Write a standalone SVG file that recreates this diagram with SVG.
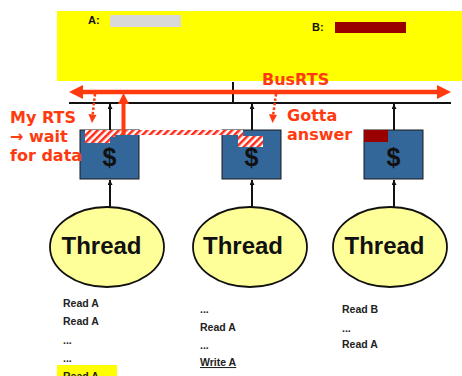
<svg xmlns="http://www.w3.org/2000/svg" width="462" height="376" viewBox="0 0 462 376">
  <style>
    .lbl { font-family: "Liberation Sans", Arial, sans-serif; font-weight: bold; fill: #111; }
    .red { font-family: "DejaVu Sans", Verdana, sans-serif; font-weight: bold; fill: #ff3a0f; font-size: 16px; }
    .cache { fill: #336699; stroke: #1a1a1a; stroke-width: 1; }
    .thread { fill: #ffff99; stroke: #111; stroke-width: 1.8; }
    .code { font-family: "Liberation Sans", Arial, sans-serif; font-weight: bold; font-size: 10.5px; fill: #222; }
    .wire { stroke: #111; stroke-width: 2; fill: none; }
    .dot { stroke: #ff3a0f; stroke-width: 2.5; stroke-dasharray: 2.5 2; fill: none; }
  </style>
  <defs>
    <pattern id="hatch" width="5" height="5" patternUnits="userSpaceOnUse" patternTransform="rotate(45)">
      <rect width="5" height="5" fill="#ffffff"/>
      <rect width="2.5" height="5" fill="#ff2a1a"/>
    </pattern>
    <marker id="tip" viewBox="0 0 10 10" refX="10" refY="5" markerWidth="5" markerHeight="5" orient="auto" markerUnits="userSpaceOnUse">
      <path d="M0,0 L10,5 L0,10 Z" fill="#111"/>
    </marker>
  </defs>

  <!-- memory -->
  <g id="memory">
    <rect x="57" y="11" width="405" height="70" fill="#ffff00"/>
    <text class="lbl" x="88" y="24" font-size="11">A:</text>
    <rect x="110" y="15" width="71" height="12" fill="#d9d9d9"/>
    <text class="lbl" x="312" y="31" font-size="11">B:</text>
    <rect x="335" y="22" width="71" height="11" fill="#990000"/>
  </g>

  <!-- caches -->
  <g id="cache1">
    <rect class="cache" x="80" y="130" width="59" height="49"/>
    <text class="lbl" x="109.5" y="166" font-size="25" text-anchor="middle">$</text>
  </g>
  <g id="cache2">
    <rect class="cache" x="222" y="130" width="59" height="49"/>
    <text class="lbl" x="251.5" y="166" font-size="25" text-anchor="middle">$</text>
  </g>
  <g id="cache3">
    <rect class="cache" x="364" y="130" width="59" height="49"/>
    <rect x="364" y="130" width="24" height="12" fill="#990000"/>
    <text class="lbl" x="393.5" y="166" font-size="25" text-anchor="middle">$</text>
  </g>

  <!-- threads -->
  <g id="thread1">
    <ellipse class="thread" cx="107" cy="247" rx="57" ry="40"/>
    <text class="lbl" x="101.5" y="254" font-size="24" text-anchor="middle">Thread</text>
  </g>
  <g id="thread2">
    <ellipse class="thread" cx="250" cy="247" rx="57" ry="40"/>
    <text class="lbl" x="243" y="254" font-size="24" text-anchor="middle">Thread</text>
  </g>
  <g id="thread3">
    <ellipse class="thread" cx="390" cy="247" rx="57" ry="40"/>
    <text class="lbl" x="384.5" y="254" font-size="24" text-anchor="middle">Thread</text>
  </g>

  <!-- connectors -->
  <g id="connectors">
    <line class="wire" x1="69" y1="103" x2="451" y2="103" stroke-width="2.5"/>
    <line class="wire" x1="233" y1="82" x2="233" y2="103"/>
    <line class="wire" x1="110" y1="130" x2="110" y2="104" stroke-width="1.8" marker-end="url(#tip)"/>
    <line class="wire" x1="252" y1="130" x2="252" y2="104" stroke-width="1.8" marker-end="url(#tip)"/>
    <line class="wire" x1="394" y1="130" x2="394" y2="104" stroke-width="1.8" marker-end="url(#tip)"/>
    <line class="wire" x1="110" y1="207" x2="110" y2="180" stroke-width="1.8" marker-end="url(#tip)"/>
    <line class="wire" x1="252" y1="207" x2="252" y2="180" stroke-width="1.8" marker-end="url(#tip)"/>
    <line class="wire" x1="394" y1="207" x2="394" y2="180" stroke-width="1.8" marker-end="url(#tip)"/>

    <!-- bus request signal -->
    <line x1="80" y1="92" x2="440" y2="92" stroke="#ff3a0f" stroke-width="4.5"/>
    <path d="M69,92 L83,85 L83,99 Z" fill="#ff3a0f"/>
    <path d="M451,92 L437,85 L437,99 Z" fill="#ff3a0f"/>

    <!-- hatched transfer -->
    <path d="M85,130 H243 V136 H263 V147 H238 V135 H115 V137 H110 V143 H85 Z" fill="url(#hatch)"/>

    <!-- own request raised -->
    <line x1="123.5" y1="135" x2="123.5" y2="101" stroke="#ff3a0f" stroke-width="4"/>
    <path d="M123.5,93 L118,104 L129,104 Z" fill="#ff3a0f"/>

    <!-- snooped signals -->
    <line class="dot" x1="95" y1="94" x2="92.5" y2="116"/>
    <path d="M88.5,114 L92,123 L96.5,115 Z" fill="#ff3a0f"/>
    <line class="dot" x1="276" y1="94" x2="273" y2="116"/>
    <path d="M269,114 L272.5,123 L277,115 Z" fill="#ff3a0f"/>
  </g>

  <!-- annotations -->
  <text class="red" x="262" y="85">BusRTS</text>
  <text class="red" x="10" y="123">My RTS</text>
  <text class="red" x="10" y="142">→ wait</text>
  <text class="red" x="10" y="161">for data</text>
  <text class="red" x="287" y="121">Gotta</text>
  <text class="red" x="287" y="140">answer</text>

  <!-- access traces -->
  <rect x="57" y="365" width="60" height="11" fill="#ffff00"/>
  <g class="code">
    <text x="63" y="307">Read A</text>
    <text x="63" y="325">Read A</text>
    <text x="63" y="344">...</text>
    <text x="63" y="362">...</text>
    <text x="63" y="380">Read A</text>
    <text x="200" y="313">...</text>
    <text x="200" y="331">Read A</text>
    <text x="200" y="349">...</text>
    <text x="200" y="366" text-decoration="underline">Write A</text>
    <text x="342" y="313">Read B</text>
    <text x="342" y="332">...</text>
    <text x="342" y="348">Read A</text>
  </g>
</svg>
